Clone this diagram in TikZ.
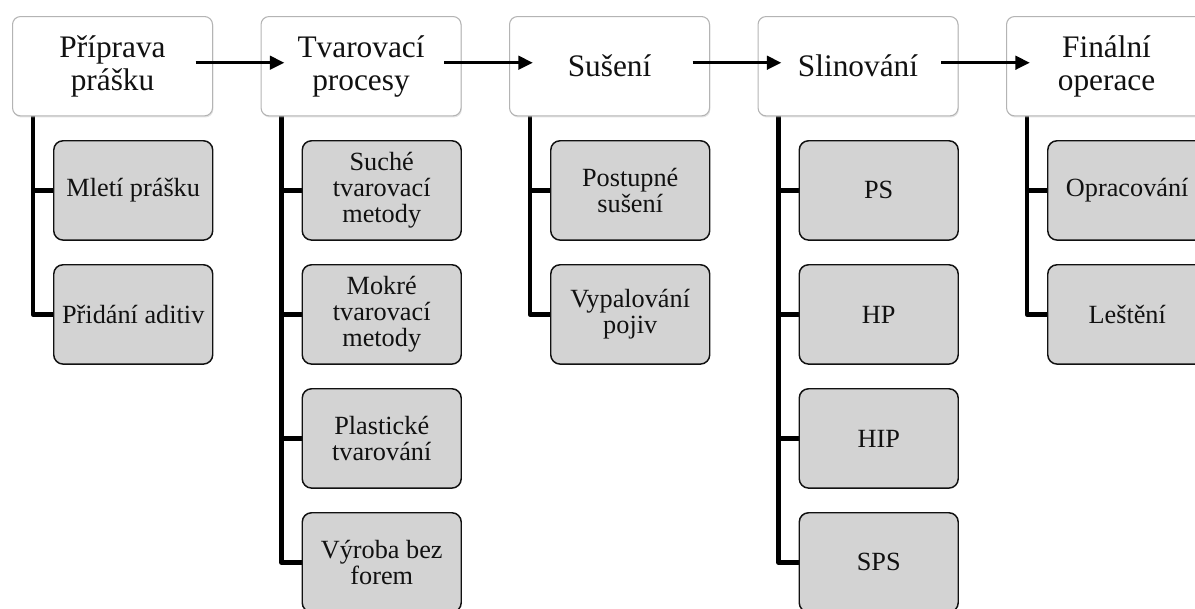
\documentclass[tikz,border=0pt]{standalone}
\usepackage{fontspec}
\setmainfont{Liberation Serif}
\usetikzlibrary{arrows.meta,shadows,backgrounds}
\definecolor{headborder}{HTML}{B4B4B4}
\definecolor{childfill}{HTML}{D3D3D3}
\definecolor{ink}{HTML}{111111}
\begin{document}
\begin{tikzpicture}[x=0.75pt,y=-0.75pt,
  head/.style={draw=headborder, line width=0.8pt, fill=white, rounded corners=6pt,
    minimum width=150pt, minimum height=74.5pt, inner sep=0pt, anchor=north west,
    align=center, text=ink, font=\fontsize{23.5pt}{24.8pt}\selectfont,
    drop shadow={shadow xshift=0.6pt, shadow yshift=-1.2pt, fill=black!22}},
  child/.style={draw=ink, line width=1.1pt, fill=childfill, rounded corners=7pt,
    minimum width=119.25pt, minimum height=74.5pt, inner sep=0pt, anchor=north west,
    align=center, text=ink, font=\fontsize{19.7pt}{19.7pt}\selectfont},
  trunk/.style={draw=black, line width=3.4pt, line join=round},
  flow/.style={draw=black, line width=2.6pt, -{Triangle[length=11pt, width=10pt]}}
]
\useasboundingbox (0,0) rectangle (1195,608);
\clip (0,0) rectangle (1195,608);

% process stages
\node[head] (h1) at (12,16)    {Příprava\\prášku};
\node[head] (h2) at (260.5,16) {Tvarovací\\procesy};
\node[head] (h3) at (509,16)   {Sušení};
\node[head] (h4) at (757.5,16) {Slinování};
\node[head] (h5) at (1006,16)  {Finální\\operace};

% flow arrows between stages
\foreach \a/\b in {h1/h2, h2/h3, h3/h4, h4/h5}
  \draw[flow] ([xshift=-13pt, yshift=2.6pt]\a.east) -- ([xshift=18pt, yshift=2.6pt]\b.west);

% sub-steps
\node[child] (c11) at (53,140)    {Mletí prášku};
\node[child] (c12) at (53,264)    {Přidání aditiv};

\node[child] (c21) at (301.5,140) {Suché\\tvarovací\\metody};
\node[child] (c22) at (301.5,264) {Mokré\\tvarovací\\metody};
\node[child] (c23) at (301.5,388) {Plastické\\tvarování};
\node[child] (c24) at (301.5,512) {Výroba bez\\forem};

\node[child] (c31) at (550,140)   {Postupné\\sušení};
\node[child] (c32) at (550,264)   {Vypalování\\pojiv};

\node[child] (c41) at (798.5,140) {PS};
\node[child] (c42) at (798.5,264) {HP};
\node[child] (c43) at (798.5,388) {HIP};
\node[child] (c44) at (798.5,512) {SPS};

\node[child] (c51) at (1047,140)  {Opracování};
\node[child] (c52) at (1047,264)  {Leštění};

% tree lines from each stage down to its sub-steps, kept behind the boxes
\begin{scope}[on background layer]
\foreach \h/\last/\others in {h1/c12/{c11}, h2/c24/{c21,c22,c23}, h3/c32/{c31},
                              h4/c44/{c41,c42,c43}, h5/c52/{c51}} {
  \draw[trunk] ([xshift=15.75pt]\h.south west) |- (\last.west);
  \foreach \c in \others
    \draw[trunk] ([xshift=15.75pt]\h.south west |- \c.west) -- (\c.west);
}
\end{scope}
\end{tikzpicture}
\end{document}
